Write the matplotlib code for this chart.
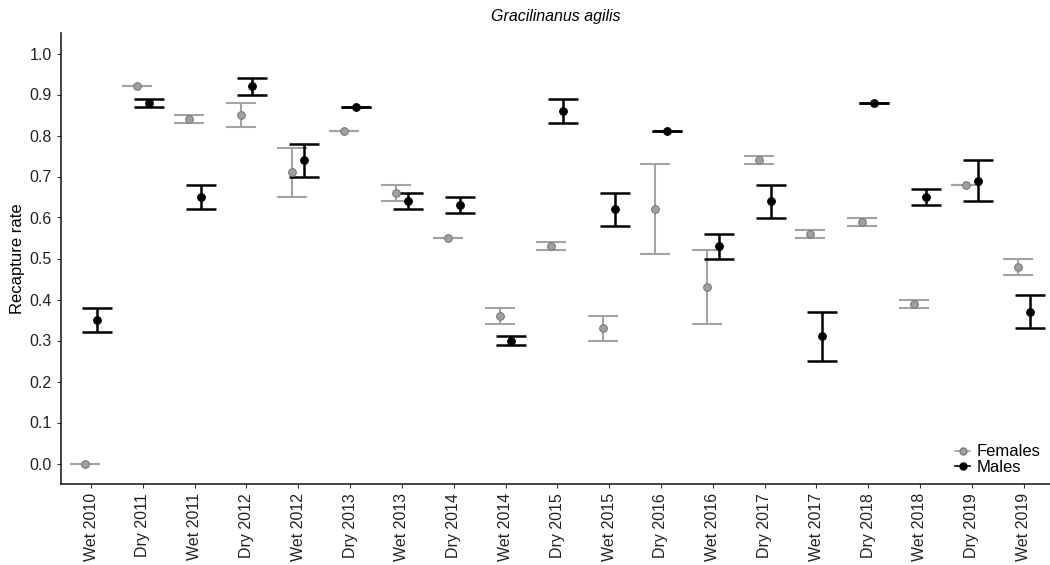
import numpy as np
import matplotlib.pyplot as plt
from matplotlib.lines import Line2D

plt.rcParams['font.family'] = ['Liberation Sans', 'DejaVu Sans']

# seasons on the x axis
seasons = ['Wet 2010', 'Dry 2011', 'Wet 2011', 'Dry 2012', 'Wet 2012', 'Dry 2013',
           'Wet 2013', 'Dry 2014', 'Wet 2014', 'Dry 2015', 'Wet 2015', 'Dry 2016',
           'Wet 2016', 'Dry 2017', 'Wet 2017', 'Dry 2018', 'Wet 2018', 'Dry 2019',
           'Wet 2019']

# females: estimate, lower, upper
fem = [0.00, 0.92, 0.84, 0.85, 0.71, 0.81, 0.66, 0.55, 0.36, 0.53, 0.33, 0.62,
       0.43, 0.74, 0.56, 0.59, 0.39, 0.68, 0.48]
fem_lo = [0.00, 0.92, 0.83, 0.82, 0.65, 0.81, 0.64, 0.55, 0.34, 0.52, 0.30, 0.51,
          0.34, 0.73, 0.55, 0.58, 0.38, 0.68, 0.46]
fem_hi = [0.00, 0.92, 0.85, 0.88, 0.77, 0.81, 0.68, 0.55, 0.38, 0.54, 0.36, 0.73,
          0.52, 0.75, 0.57, 0.60, 0.40, 0.68, 0.50]

# males: estimate, lower, upper
mal = [0.35, 0.88, 0.65, 0.92, 0.74, 0.87, 0.64, 0.63, 0.30, 0.86, 0.62, 0.81,
       0.53, 0.64, 0.31, 0.88, 0.65, 0.69, 0.37]
mal_lo = [0.32, 0.87, 0.62, 0.90, 0.70, 0.87, 0.62, 0.61, 0.29, 0.83, 0.58, 0.81,
          0.50, 0.60, 0.25, 0.88, 0.63, 0.64, 0.33]
mal_hi = [0.38, 0.89, 0.68, 0.94, 0.78, 0.87, 0.66, 0.65, 0.31, 0.89, 0.66, 0.81,
          0.56, 0.68, 0.37, 0.88, 0.67, 0.74, 0.41]

fig = plt.figure(figsize=(10.5, 5.65), dpi=100)
ax = fig.add_axes([61 / 1050, 81 / 565, 989 / 1050, 451 / 565])

x = np.arange(len(seasons))
off = 0.115
gray = '#a3a3a3'

def draw(vals, lo, hi, dx, col, face, edge, lw):
    vals = np.array(vals)
    err = [vals - np.array(lo), np.array(hi) - vals]
    ax.errorbar(x + dx, vals, yerr=err, fmt='none', ecolor=col, elinewidth=lw,
                capsize=10.5, capthick=lw, zorder=2)
    ax.plot(x + dx, vals, 'o', ms=5.5, mfc=face, mec=edge, mew=0.8, ls='none', zorder=3)

draw(fem, fem_lo, fem_hi, -off, gray, '#a0a0a0', '#7a7a7a', 1.5)
draw(mal, mal_lo, mal_hi, off, 'black', 'black', 'black', 1.8)

ax.set_xlim(-0.58, 18.51)
ax.set_ylim(-0.05, 1.05)
ax.set_yticks(np.arange(0, 1.01, 0.1))
ax.set_yticklabels([f'{v:.1f}' for v in np.arange(0, 1.01, 0.1)])
ax.set_xticks(x)
ax.set_xticklabels(seasons, rotation=90)
ax.tick_params(labelsize=11.5, colors='#333333', length=3, width=0.8, labelcolor='#222222')
for s in ['top', 'right']:
    ax.spines[s].set_visible(False)
for s in ['left', 'bottom']:
    ax.spines[s].set_linewidth(1.2)
    ax.spines[s].set_color('#222222')

ax.set_ylabel('Recapture rate', fontsize=12, labelpad=3)
ax.set_title('Gracilinanus agilis', fontsize=11.5, style='italic', pad=9)

handles = [Line2D([0], [0], color=gray, marker='o', mfc='#a0a0a0', mec='#7a7a7a', ms=5, lw=1.2),
           Line2D([0], [0], color='black', marker='o', ms=5, lw=1.2)]
ax.legend(handles, ['Females', 'Males'], loc='lower right', frameon=False,
          fontsize=12, handlelength=0.9, handletextpad=0.4, labelspacing=0.02,
          borderaxespad=0.15, bbox_to_anchor=(1.0, 0.0))

fig.savefig('out.png', dpi=100)
